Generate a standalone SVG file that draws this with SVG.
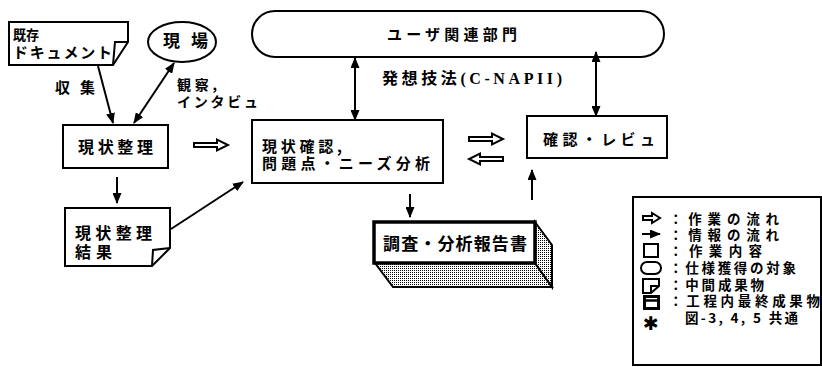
<svg xmlns="http://www.w3.org/2000/svg" width="822" height="367" viewBox="0 0 822 367">
<defs>
<marker id="ah" markerUnits="userSpaceOnUse" markerWidth="11" markerHeight="9" refX="10" refY="4.5" orient="auto-start-reverse">
<path d="M0,0 L11,4.5 L0,9 z" fill="#000"/>
</marker>
<pattern id="dots" width="2" height="2" patternUnits="userSpaceOnUse">
<rect width="2" height="2" fill="#fff"/>
<rect width="1" height="1" fill="#000"/>
</pattern>
</defs>
<style>
.box{fill:#fff;stroke:#000;stroke-width:2}
.t{font-family:"Noto Sans CJK JP","Liberation Sans",sans-serif;font-weight:bold;fill:#000}
.con{stroke:#000;stroke-width:2;fill:none}
.hol{fill:#fff;stroke:#000;stroke-width:2;stroke-linejoin:miter}
.lg{font-family:"Noto Sans CJK JP","Liberation Sans",sans-serif;font-weight:bold;font-size:13.5px;fill:#000}
</style>
<rect width="822" height="367" fill="#fff"/>

<g id="doc-existing">
<path class="box" d="M9,22 L128,22 L128,42 L113,65 L9,65 Z"/>
<path class="con" d="M128,42 L115,42 L113,65"/>
<text class="t" x="13" y="40" font-size="14" textLength="26" lengthAdjust="spacingAndGlyphs">既存</text>
<text class="t" x="13" y="58" font-size="15" font-weight="normal" textLength="99" lengthAdjust="spacing">ドキュメント</text>
</g>

<g id="genba">
<ellipse class="box" cx="182" cy="42" rx="34" ry="20"/>
<text class="t" x="163" y="47" font-size="17" textLength="45" lengthAdjust="spacing">現 場</text>
</g>

<g id="user-dept">
<rect class="box" x="252" y="11" width="412" height="46" rx="23" ry="23"/>
<text class="t" x="387" y="40" font-size="15" font-weight="normal" textLength="130" lengthAdjust="spacing">ユーザ関連部門</text>
</g>

<g id="genjo-seiri">
<rect class="box" x="63" y="125" width="105" height="43"/>
<text class="t" x="78" y="153" font-size="16" textLength="75" lengthAdjust="spacing">現状整理</text>
</g>

<g id="genjo-seiri-kekka">
<path class="box" d="M65,208 L170,208 L170,248 L152,266 L65,266 Z"/>
<path class="con" d="M170,248 L153,250 L152,266"/>
<text class="t" x="75" y="239" font-size="16" textLength="77" lengthAdjust="spacing">現状整理</text>
<text class="t" x="75" y="258" font-size="16" textLength="37" lengthAdjust="spacing">結果</text>
</g>

<g id="genjo-kakunin">
<rect class="box" x="252" y="120" width="191" height="63"/>
<text class="t" x="262" y="152" font-size="15" textLength="80" lengthAdjust="spacing">現状確認,</text>
<text class="t" x="262" y="169" font-size="15" textLength="168" lengthAdjust="spacing">問題点・ニーズ分析</text>
</g>

<g id="kakunin-review">
<rect class="box" x="527" y="116" width="140" height="42"/>
<text class="t" x="543" y="145" font-size="15" textLength="112" lengthAdjust="spacing">確認・レビュ</text>
</g>

<g id="report">
<path d="M375,263 L535,263 L552,287 L393,287 Z" fill="url(#dots)" stroke="#000" stroke-width="2"/>
<path d="M535,222 L552,245 L552,287 L535,263 Z" fill="url(#dots)" stroke="#000" stroke-width="2"/>
<rect x="374" y="222" width="161" height="41" fill="#fff" stroke="#000" stroke-width="3.5"/>
<text class="t" x="383" y="250" font-size="17" textLength="144" lengthAdjust="spacing">調査・分析報告書</text>
</g>

<g id="connectors">
<line class="con" x1="98" y1="66" x2="113" y2="123" marker-end="url(#ah)"/>
<line class="con" x1="174" y1="63" x2="134" y2="123" marker-start="url(#ah)" marker-end="url(#ah)"/>
<line class="con" x1="355" y1="58" x2="355" y2="120" marker-start="url(#ah)" marker-end="url(#ah)"/>
<line class="con" x1="596" y1="52" x2="596" y2="116" marker-start="url(#ah)" marker-end="url(#ah)"/>
<line class="con" x1="117" y1="177" x2="117" y2="203" marker-end="url(#ah)"/>
<line class="con" x1="171" y1="229" x2="243" y2="182" marker-end="url(#ah)"/>
<line class="con" x1="410" y1="194" x2="410" y2="217" marker-end="url(#ah)"/>
<line class="con" x1="532" y1="200" x2="532" y2="170" marker-end="url(#ah)"/>
<path class="hol" d="M194,143 H217 V139.5 L228,145 L217,150.5 V147 H194 Z"/>
<path class="hol" d="M469,137 H492 V133.5 L503,139 L492,144.5 V141 H469 Z"/>
<path class="hol" d="M503,157 H480 V153.5 L469,159 L480,164.5 V161 H503 Z"/>
<text class="t" x="55" y="93" font-size="15" textLength="40" lengthAdjust="spacing">収集</text>
<text class="t" x="177" y="90" font-size="14" textLength="40" lengthAdjust="spacing">観察,</text>
<text class="t" x="177" y="107" font-size="14" font-weight="normal" textLength="81" lengthAdjust="spacing">インタビュ</text>
<text x="382" y="84" font-size="16" font-family="Liberation Serif,Noto Sans CJK JP,serif" font-weight="bold" textLength="180" lengthAdjust="spacing">発想技法(C-NAPII)</text>
</g>

<g id="legend">
<path d="M633,197 H821 V365 H633 Z" fill="#fff" stroke="#000" stroke-width="2"/>
<path class="hol" d="M643,216 H652 V213 L660,218 L652,223 V220 H643 Z"/>
<line class="con" x1="642" y1="234" x2="660" y2="234" marker-end="url(#ah)"/>
<rect class="box" x="644" y="244" width="14" height="13"/>
<rect class="box" x="641" y="262" width="20" height="12" rx="6" ry="6"/>
<path class="box" d="M643,279 L659,279 L659,286 L651,293 L643,293 Z"/>
<path class="con" d="M659,286 L651,286 L651,293" stroke-width="1.5"/>
<rect x="644.5" y="296.5" width="14" height="12" fill="#fff" stroke="#000" stroke-width="3"/>
<line x1="644" y1="300.5" x2="659" y2="300.5" stroke="#000" stroke-width="2.5"/>
<text x="643" y="330" font-size="19" font-family="DejaVu Sans,sans-serif" font-weight="bold">✱</text>
<text class="lg" x="669" y="224" textLength="110" lengthAdjust="spacing">：作業の流れ</text>
<text class="lg" x="669" y="240" textLength="110" lengthAdjust="spacing">：情報の流れ</text>
<text class="lg" x="669" y="256" textLength="93" lengthAdjust="spacing">：作業内容</text>
<text class="lg" x="669" y="273" textLength="127" lengthAdjust="spacing">：仕様獲得の対象</text>
<text class="lg" x="669" y="290" textLength="95" lengthAdjust="spacing">：中間成果物</text>
<text class="lg" x="669" y="306" textLength="151" lengthAdjust="spacing">：工程内最終成果物</text>
<text class="lg" x="685" y="323" font-weight="normal" textLength="113" lengthAdjust="spacing">図-3, 4, 5 共通</text>
</g>
</svg>
